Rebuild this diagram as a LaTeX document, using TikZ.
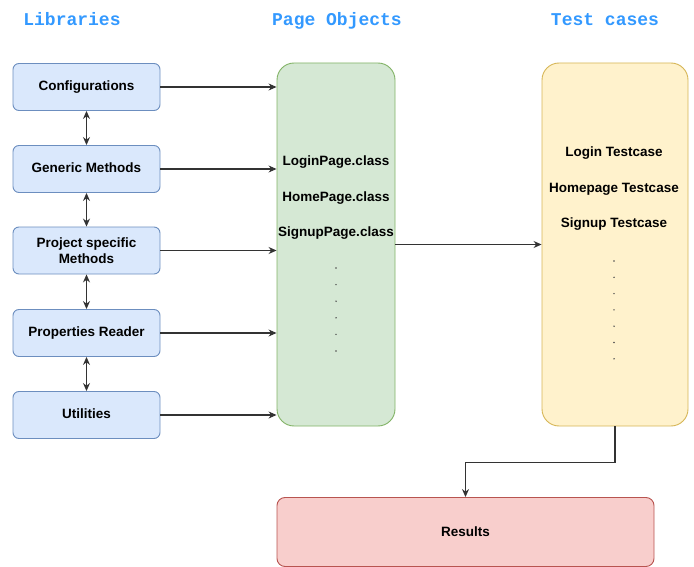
\documentclass[tikz,border=0pt]{standalone}
\usepackage{fontspec}
\usetikzlibrary{arrows.meta}
\setmainfont{Liberation Sans}
\newfontfamily\headfont{Liberation Mono}
\definecolor{libfill}{HTML}{DAE8FC}
\definecolor{libline}{HTML}{6C8EBF}
\definecolor{pagefill}{HTML}{D5E8D4}
\definecolor{pageline}{HTML}{82B366}
\definecolor{testfill}{HTML}{FFF2CC}
\definecolor{testline}{HTML}{D6B656}
\definecolor{resfill}{HTML}{F8CECC}
\definecolor{resline}{HTML}{B85450}
\definecolor{headblue}{HTML}{3399FF}
\definecolor{wire}{HTML}{333333}
\begin{document}
\begin{tikzpicture}[>={Stealth[length=8pt,width=7pt]},x=1pt,y=-1pt,
	lib/.style={draw=libline,fill=libfill,rounded corners=6pt,line width=0.9pt,
		minimum width=147pt,minimum height=47pt,align=center,
		font=\fontsize{13.5}{16}\selectfont\bfseries},
	head/.style={text=headblue,text height=9pt,text depth=4pt,
		font=\headfont\fontsize{18}{20}\selectfont\bfseries},
	item/.style={text height=10pt,text depth=3pt,font=\fontsize{13.5}{16}\selectfont\bfseries},
	wire/.style={->,draw=wire,line width=1.1pt}]
	\useasboundingbox (0,0) rectangle (694,567);
	% column headings
	\node[head] (hlib) at (72,23) {Libraries};
	\node[head] (hpage) at (337,23) {Page Objects};
	\node[head] (htest) at (605,23) {Test cases};
	% libraries
	\node[lib,text height=10pt,text depth=3pt] (conf) at (86.5,87) {Configurations};
	\node[lib,text height=10pt,text depth=3pt] (gen) at (86.5,169) {Generic Methods};
	\node[lib] (proj) at (86.5,250.5) {Project specific\\Methods};
	\node[lib,text height=10pt,text depth=3pt] (prop) at (86.5,333) {Properties Reader};
	\node[lib,text height=10pt,text depth=3pt] (util) at (86.5,415) {Utilities};
	% page objects and test cases
	\node[draw=pageline,fill=pagefill,rounded corners=17pt,line width=0.9pt,
		minimum width=118pt,minimum height=363pt] (pages) at (336,244.5) {};
	\node[draw=testline,fill=testfill,rounded corners=17pt,line width=0.9pt,
		minimum width=146pt,minimum height=363pt] (tests) at (615,244.5) {};
	\node[draw=resline,fill=resfill,rounded corners=8pt,line width=0.9pt,
		minimum width=377pt,minimum height=69pt,
		font=\fontsize{13.5}{16}\selectfont\bfseries] (res) at (465.5,532) {Results};
	\node[item] (login) at (336,162) {LoginPage.class};
	\node[item] (home) at (336,198) {HomePage.class};
	\node[item] (signup) at (336,233) {SignupPage.class};
	\node[item] (tlogin) at (614,153) {Login Testcase};
	\node[item] (thome) at (614,189) {Homepage Testcase};
	\node[item] (tsignup) at (614,224) {Signup Testcase};
	\foreach \k in {0,...,5}
		\fill[black!70] (336,268+16.6*\k) circle (0.8pt);
	\foreach \k in {0,...,6}
		\fill[black!70] (614,261+16.3*\k) circle (0.8pt);
	% connectors
	\draw[<->,draw=wire,line width=1.1pt] (conf) -- (gen);
	\draw[<->,draw=wire,line width=1.1pt] (gen) -- (proj);
	\draw[<->,draw=wire,line width=1.1pt] (proj) -- (prop);
	\draw[<->,draw=wire,line width=1.1pt] (prop) -- (util);
	\foreach \src in {conf,gen,proj,prop,util}
		\draw[wire] (\src.east) -- (\src.east -| pages.west);
	\draw[wire] (pages.east) -- (tests.west);
	\draw[wire] (tests.south) -- ++(0,36) -| (res.north);
\end{tikzpicture}
\end{document}
